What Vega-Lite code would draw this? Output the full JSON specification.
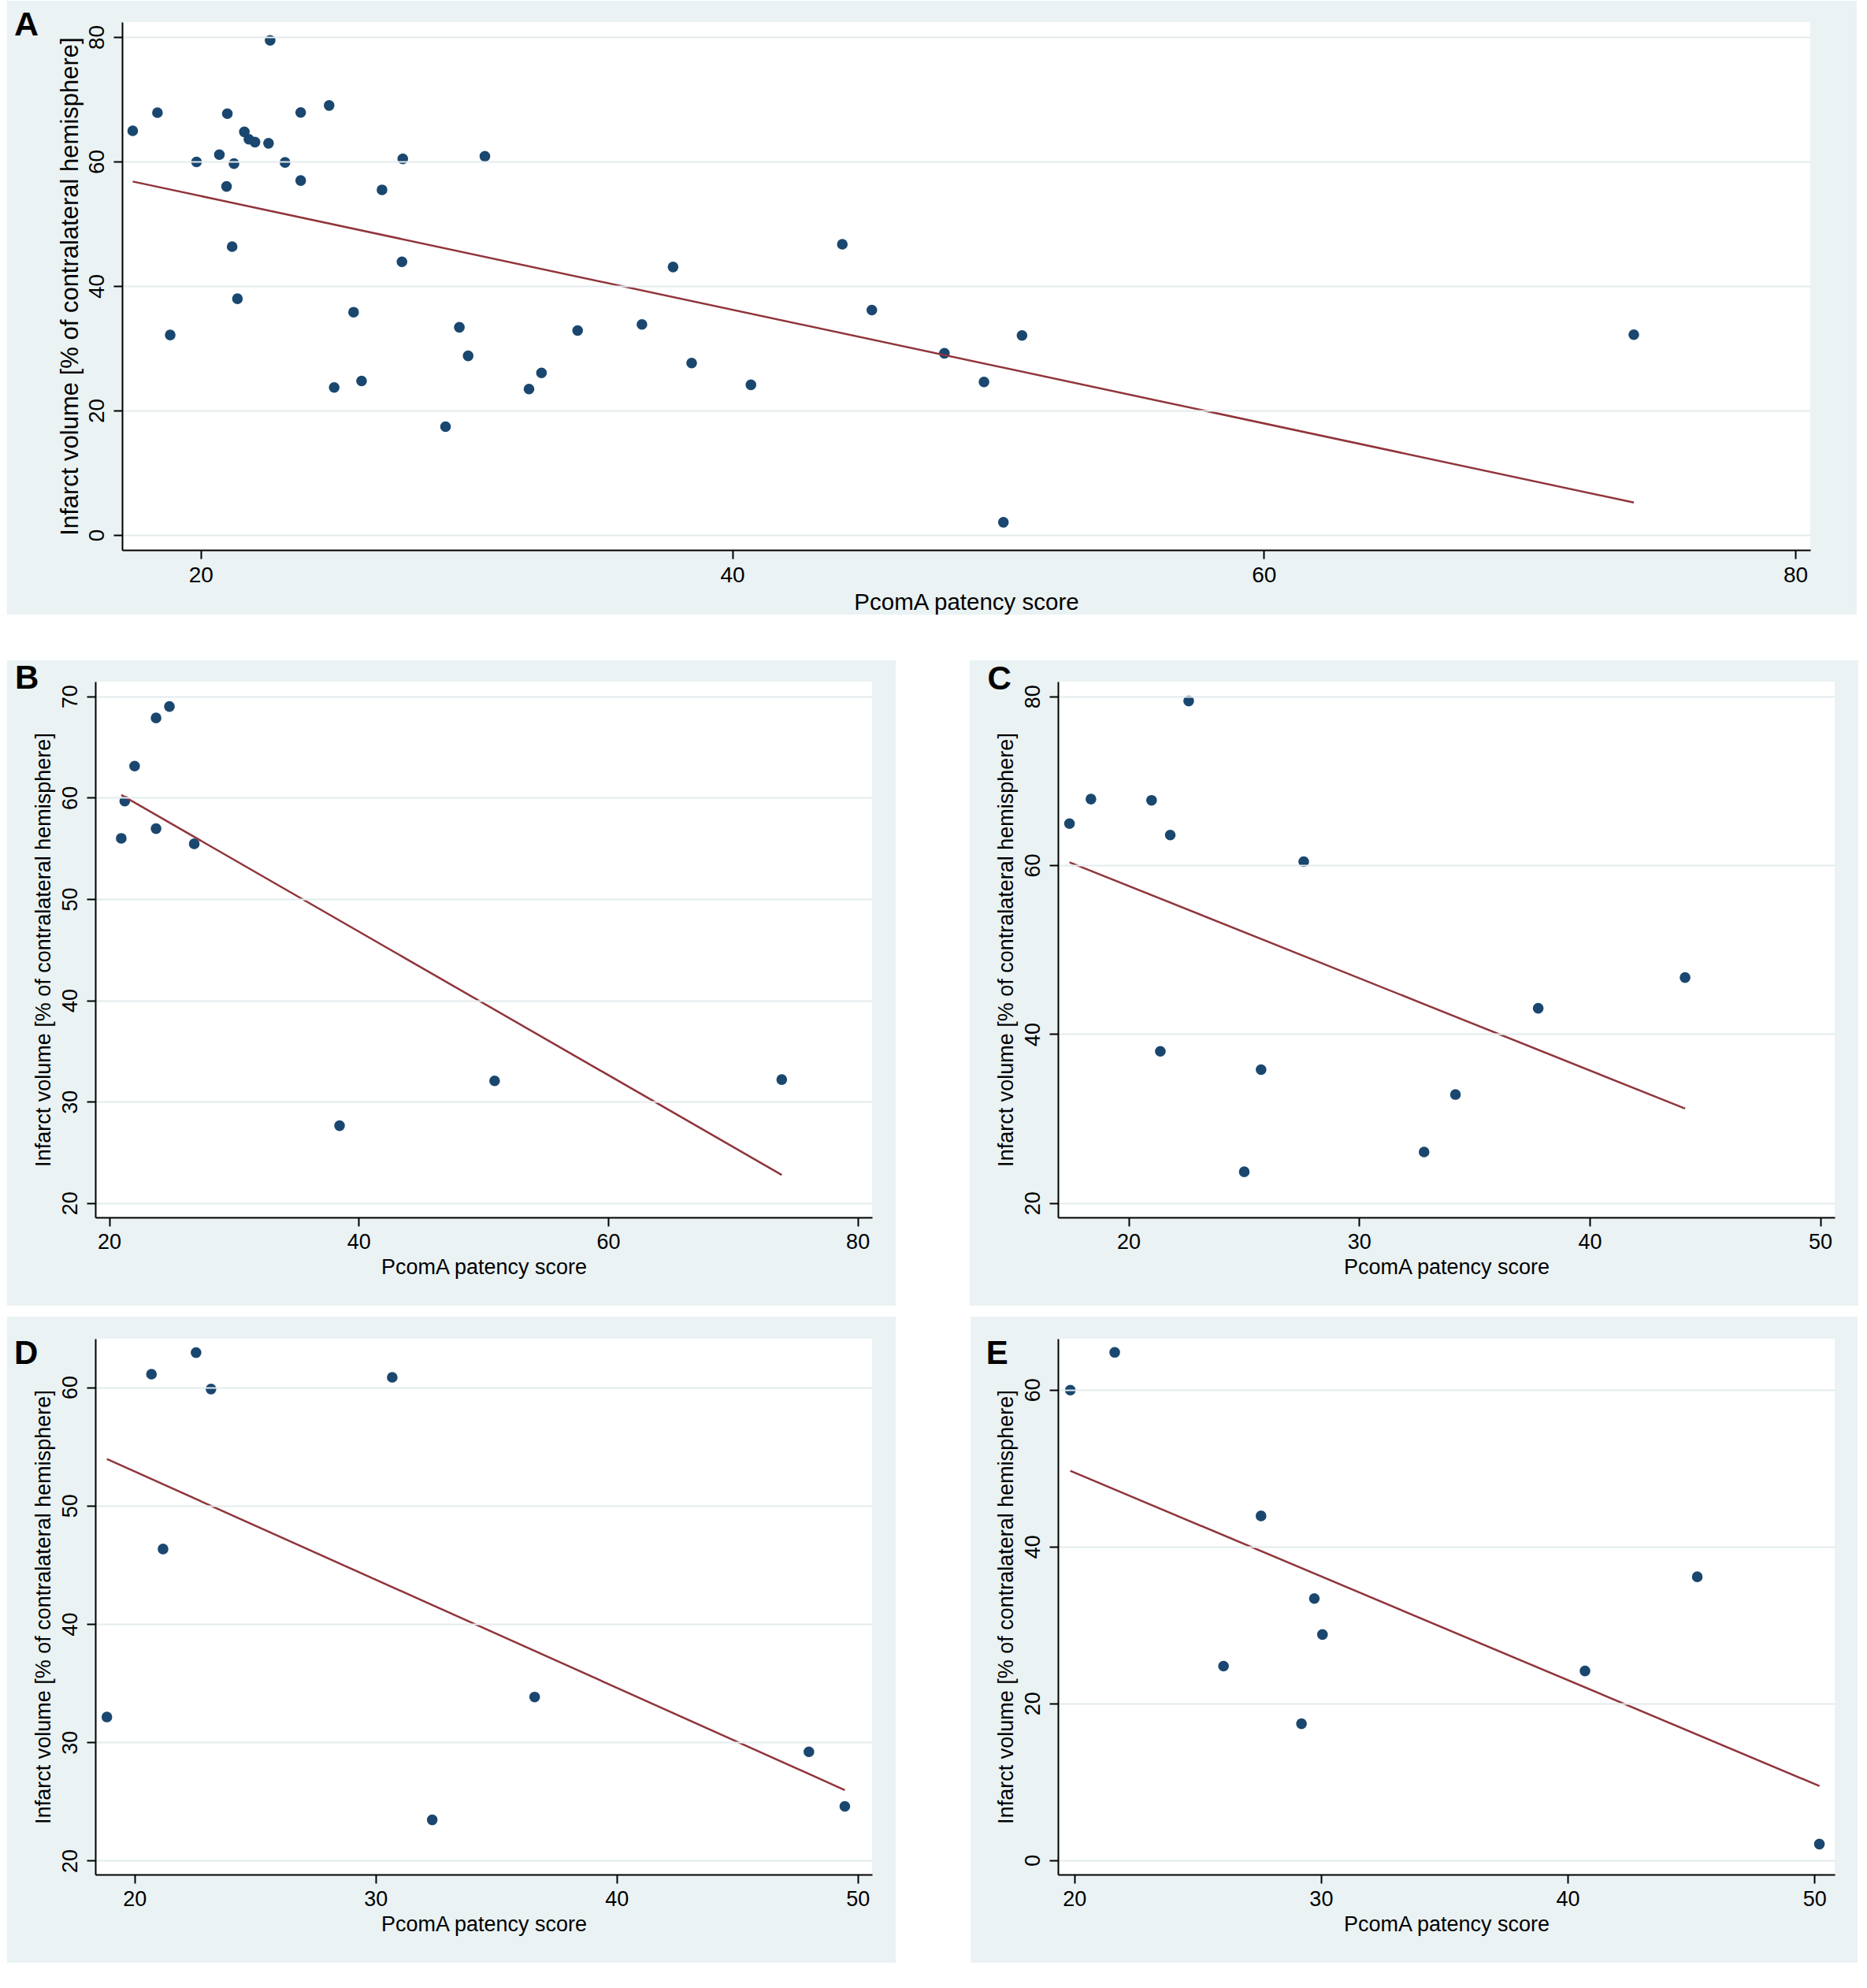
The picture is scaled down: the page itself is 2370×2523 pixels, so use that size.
{
  "$schema": "https://vega.github.io/schema/vega-lite/v6.json",
  "description": "Infarct volume vs PcomA patency score, all patients (A) and four subgroups (B-E)",
  "background": "#ffffff",
  "padding": {"left": 8, "top": 0, "right": 14, "bottom": 34},
  "config": {
    "view": {"stroke": null, "fill": null},
    "font": "Liberation Sans",
    "axis": {
      "domainColor": "#000000", "domainWidth": 2,
      "tickColor": "#000000", "tickWidth": 2, "tickSize": 11,
      "labelColor": "#000000", "labelFontSize": 27, "labelPadding": 7,
      "labelFlush": false, "labelOverlap": false,
      "titleColor": "#000000", "titleFontSize": 27, "titleFontWeight": "normal", "titlePadding": 6,
      "gridColor": "#E3EBED", "gridWidth": 2, "zindex": 1
    },
    "axisX": {"grid": false},
    "axisY": {"grid": true, "labelAngle": 270, "labelAlign": "center", "labelBaseline": "bottom"}
  },
  "datasets": {
    "pts": [
      {"x": 20.97, "y": 55.99, "g": "B"}, {"x": 21.25, "y": 59.66, "g": "B"}, {"x": 22.04, "y": 63.12, "g": "B"},
      {"x": 23.76, "y": 67.87, "g": "B"}, {"x": 23.76, "y": 56.95, "g": "B"}, {"x": 24.83, "y": 69.0, "g": "B"},
      {"x": 26.82, "y": 55.45, "g": "B"}, {"x": 38.47, "y": 27.63, "g": "B"}, {"x": 50.9, "y": 32.05, "g": "B"},
      {"x": 73.92, "y": 32.18, "g": "B"},
      {"x": 17.44, "y": 64.93, "g": "C"}, {"x": 18.37, "y": 67.84, "g": "C"}, {"x": 21.0, "y": 67.69, "g": "C"},
      {"x": 21.81, "y": 63.58, "g": "C"}, {"x": 22.61, "y": 79.45, "g": "C"}, {"x": 21.38, "y": 37.96, "g": "C"},
      {"x": 27.6, "y": 60.43, "g": "C"}, {"x": 25.02, "y": 23.7, "g": "C"}, {"x": 25.75, "y": 35.8, "g": "C"},
      {"x": 32.82, "y": 26.05, "g": "C"}, {"x": 34.18, "y": 32.85, "g": "C"}, {"x": 37.77, "y": 43.06, "g": "C"},
      {"x": 44.14, "y": 46.7, "g": "C"},
      {"x": 18.85, "y": 32.14, "g": "D"}, {"x": 20.7, "y": 61.1, "g": "D"}, {"x": 21.18, "y": 46.33, "g": "D"},
      {"x": 22.55, "y": 62.93, "g": "D"}, {"x": 23.17, "y": 59.85, "g": "D"}, {"x": 30.69, "y": 60.84, "g": "D"},
      {"x": 32.35, "y": 23.45, "g": "D"}, {"x": 36.6, "y": 33.83, "g": "D"}, {"x": 47.98, "y": 29.2, "g": "D"},
      {"x": 49.47, "y": 24.59, "g": "D"},
      {"x": 19.84, "y": 59.94, "g": "E"}, {"x": 21.64, "y": 64.76, "g": "E"}, {"x": 26.05, "y": 24.75, "g": "E"},
      {"x": 27.57, "y": 43.9, "g": "E"}, {"x": 29.21, "y": 17.4, "g": "E"}, {"x": 29.73, "y": 33.37, "g": "E"},
      {"x": 30.06, "y": 28.78, "g": "E"}, {"x": 40.7, "y": 24.13, "g": "E"}, {"x": 45.25, "y": 36.14, "g": "E"},
      {"x": 50.2, "y": 2.05, "g": "E"}
    ]
  },
  "columns": 1,
  "spacing": 56,
  "concat": [
    {
      "width": 2177,
      "height": 670,
      "layer": [
        {
          "data": {"values": [{}]},
          "mark": {"type": "rect", "color": "#EAF2F3", "clip": false},
          "encoding": {"x": {"datum": 12.71}, "x2": {"datum": 82.31}, "y": {"datum": 85.82}, "y2": {"datum": -12.78}}
        },
        {
          "data": {"values": [{}]},
          "mark": {"type": "rect", "color": "#ffffff", "clip": false},
          "encoding": {"x": {"datum": 17.04}, "x2": {"datum": 80.56}, "y": {"datum": 82.4}, "y2": {"datum": -2.4}}
        },
        {
          "data": {"values": [{}]},
          "mark": {"type": "text", "text": "A", "fontSize": 43, "fontWeight": "bold", "align": "left", "baseline": "alphabetic", "color": "#000000", "clip": false},
          "encoding": {"x": {"datum": 12.98}, "y": {"datum": 80.2}}
        },
        {
          "data": {"name": "pts"},
          "mark": {"type": "circle", "size": 185, "color": "#1A476F", "opacity": 1},
          "encoding": {
            "x": {"field": "x", "type": "quantitative", "scale": {"domain": [17.04, 80.56], "range": [34, 2177], "nice": false, "zero": false},
                  "axis": {"values": [20, 40, 60, 80], "title": "PcomA patency score", "labelFontSize": 28, "titleFontSize": 29.5, "zindex": 1}},
            "y": {"field": "y", "type": "quantitative", "scale": {"domain": [-2.4, 82.4], "nice": false, "zero": false},
                  "axis": {"values": [0, 20, 40, 60, 80], "title": "Infarct volume [% of contralateral hemisphere]", "labelFontSize": 28, "titleFontSize": 31, "titlePadding": 4, "offset": -34, "zindex": 1}}
          }
        },
        {
          "data": {"name": "pts"},
          "transform": [{"regression": "y", "on": "x"}],
          "mark": {"type": "line", "color": "#90353B", "strokeWidth": 2.5},
          "encoding": {"x": {"field": "x", "type": "quantitative"}, "y": {"field": "y", "type": "quantitative"}}
        }
      ]
    },
    {
      "columns": 2,
      "spacing": {"row": 13, "column": 92},
      "concat": [
        {
          "width": 986,
          "height": 680,
          "layer": [
            {
              "data": {"values": [{}]},
              "mark": {"type": "rect", "color": "#EAF2F3", "clip": false},
              "encoding": {"x": {"datum": 11.82}, "x2": {"datum": 83.06}, "y": {"datum": 73.56}, "y2": {"datum": 9.87}}
            },
            {
              "data": {"values": [{}]},
              "mark": {"type": "rect", "color": "#ffffff", "clip": false},
              "encoding": {"x": {"datum": 18.89}, "x2": {"datum": 81.16}, "y": {"datum": 71.46}, "y2": {"datum": 18.58}}
            },
            {
              "data": {"values": [{}]},
              "mark": {"type": "text", "text": "B", "fontSize": 42, "fontWeight": "bold", "align": "left", "baseline": "alphabetic", "color": "#000000", "clip": false},
              "encoding": {"x": {"datum": 12.45}, "y": {"datum": 70.75}}
            },
            {
              "data": {"name": "pts"},
              "transform": [{"filter": "datum.g === 'B'"}],
              "mark": {"type": "circle", "size": 185, "color": "#1A476F", "opacity": 1},
              "encoding": {
                "x": {"field": "x", "type": "quantitative", "scale": {"domain": [18.89, 81.16], "nice": false, "zero": false},
                      "axis": {"values": [20, 40, 60, 80], "title": "PcomA patency score", "zindex": 1}},
                "y": {"field": "y", "type": "quantitative", "scale": {"domain": [18.58, 71.46], "nice": false, "zero": false},
                      "axis": {"values": [20, 30, 40, 50, 60, 70], "title": "Infarct volume [% of contralateral hemisphere]", "zindex": 1}}
              }
            },
            {
              "data": {"name": "pts"},
              "transform": [{"filter": "datum.g === 'B'"}, {"regression": "y", "on": "x"}],
              "mark": {"type": "line", "color": "#90353B", "strokeWidth": 2.5},
              "encoding": {"x": {"field": "x", "type": "quantitative"}, "y": {"field": "y", "type": "quantitative"}}
            }
          ]
        },
        {
          "width": 986,
          "height": 680,
          "layer": [
            {
              "data": {"values": [{}]},
              "mark": {"type": "rect", "color": "#EAF2F3", "clip": false},
              "encoding": {"x": {"datum": 13.11}, "x2": {"datum": 51.65}, "y": {"datum": 84.27}, "y2": {"datum": 7.85}}
            },
            {
              "data": {"values": [{}]},
              "mark": {"type": "rect", "color": "#ffffff", "clip": false},
              "encoding": {"x": {"datum": 16.94}, "x2": {"datum": 50.63}, "y": {"datum": 81.75}, "y2": {"datum": 18.3}}
            },
            {
              "data": {"values": [{}]},
              "mark": {"type": "text", "text": "C", "fontSize": 42, "fontWeight": "bold", "align": "left", "baseline": "alphabetic", "color": "#000000", "clip": false},
              "encoding": {"x": {"datum": 13.88}, "y": {"datum": 80.8}}
            },
            {
              "data": {"name": "pts"},
              "transform": [{"filter": "datum.g === 'C'"}],
              "mark": {"type": "circle", "size": 185, "color": "#1A476F", "opacity": 1},
              "encoding": {
                "x": {"field": "x", "type": "quantitative", "scale": {"domain": [16.94, 50.63], "nice": false, "zero": false},
                      "axis": {"values": [20, 30, 40, 50], "title": "PcomA patency score", "zindex": 1}},
                "y": {"field": "y", "type": "quantitative", "scale": {"domain": [18.3, 81.75], "nice": false, "zero": false},
                      "axis": {"values": [20, 40, 60, 80], "title": "Infarct volume [% of contralateral hemisphere]", "zindex": 1}}
              }
            },
            {
              "data": {"name": "pts"},
              "transform": [{"filter": "datum.g === 'C'"}, {"regression": "y", "on": "x"}],
              "mark": {"type": "line", "color": "#90353B", "strokeWidth": 2.5},
              "encoding": {"x": {"field": "x", "type": "quantitative"}, "y": {"field": "y", "type": "quantitative"}}
            }
          ]
        },
        {
          "width": 986,
          "height": 680,
          "layer": [
            {
              "data": {"values": [{}]},
              "mark": {"type": "rect", "color": "#EAF2F3", "clip": false},
              "encoding": {"x": {"datum": 14.71}, "x2": {"datum": 51.58}, "y": {"datum": 65.96}, "y2": {"datum": 11.37}}
            },
            {
              "data": {"values": [{}]},
              "mark": {"type": "rect", "color": "#ffffff", "clip": false},
              "encoding": {"x": {"datum": 18.37}, "x2": {"datum": 50.6}, "y": {"datum": 64.1}, "y2": {"datum": 18.83}}
            },
            {
              "data": {"values": [{}]},
              "mark": {"type": "text", "text": "D", "fontSize": 42, "fontWeight": "bold", "align": "left", "baseline": "alphabetic", "color": "#000000", "clip": false},
              "encoding": {"x": {"datum": 15.0}, "y": {"datum": 62.0}}
            },
            {
              "data": {"name": "pts"},
              "transform": [{"filter": "datum.g === 'D'"}],
              "mark": {"type": "circle", "size": 185, "color": "#1A476F", "opacity": 1},
              "encoding": {
                "x": {"field": "x", "type": "quantitative", "scale": {"domain": [18.37, 50.6], "nice": false, "zero": false},
                      "axis": {"values": [20, 30, 40, 50], "title": "PcomA patency score", "zindex": 1}},
                "y": {"field": "y", "type": "quantitative", "scale": {"domain": [18.83, 64.1], "nice": false, "zero": false},
                      "axis": {"values": [20, 30, 40, 50, 60], "title": "Infarct volume [% of contralateral hemisphere]", "zindex": 1}}
              }
            },
            {
              "data": {"name": "pts"},
              "transform": [{"filter": "datum.g === 'D'"}, {"regression": "y", "on": "x"}],
              "mark": {"type": "line", "color": "#90353B", "strokeWidth": 2.5},
              "encoding": {"x": {"field": "x", "type": "quantitative"}, "y": {"field": "y", "type": "quantitative"}}
            }
          ]
        },
        {
          "width": 986,
          "height": 680,
          "layer": [
            {
              "data": {"values": [{}]},
              "mark": {"type": "rect", "color": "#EAF2F3", "clip": false},
              "encoding": {"x": {"datum": 15.8}, "x2": {"datum": 51.75}, "y": {"datum": 69.31}, "y2": {"datum": -13.09}}
            },
            {
              "data": {"values": [{}]},
              "mark": {"type": "rect", "color": "#ffffff", "clip": false},
              "encoding": {"x": {"datum": 19.34}, "x2": {"datum": 50.82}, "y": {"datum": 66.5}, "y2": {"datum": -1.83}}
            },
            {
              "data": {"values": [{}]},
              "mark": {"type": "text", "text": "E", "fontSize": 42, "fontWeight": "bold", "align": "left", "baseline": "alphabetic", "color": "#000000", "clip": false},
              "encoding": {"x": {"datum": 16.43}, "y": {"datum": 63.3}}
            },
            {
              "data": {"name": "pts"},
              "transform": [{"filter": "datum.g === 'E'"}],
              "mark": {"type": "circle", "size": 185, "color": "#1A476F", "opacity": 1},
              "encoding": {
                "x": {"field": "x", "type": "quantitative", "scale": {"domain": [19.34, 50.82], "nice": false, "zero": false},
                      "axis": {"values": [20, 30, 40, 50], "title": "PcomA patency score", "zindex": 1}},
                "y": {"field": "y", "type": "quantitative", "scale": {"domain": [-1.83, 66.5], "nice": false, "zero": false},
                      "axis": {"values": [0, 20, 40, 60], "title": "Infarct volume [% of contralateral hemisphere]", "zindex": 1}}
              }
            },
            {
              "data": {"name": "pts"},
              "transform": [{"filter": "datum.g === 'E'"}, {"regression": "y", "on": "x"}],
              "mark": {"type": "line", "color": "#90353B", "strokeWidth": 2.5},
              "encoding": {"x": {"field": "x", "type": "quantitative"}, "y": {"field": "y", "type": "quantitative"}}
            }
          ]
        }
      ]
    }
  ]
}
